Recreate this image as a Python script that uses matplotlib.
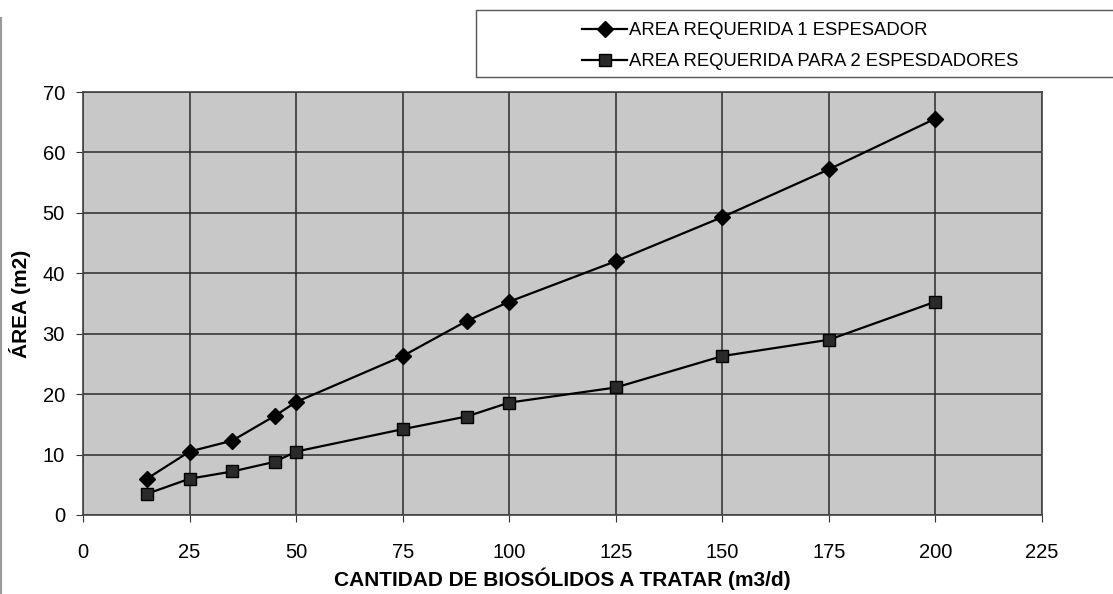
import matplotlib
matplotlib.use("Agg")
from matplotlib import pyplot as plt
from matplotlib.patches import Rectangle
from matplotlib.lines import Line2D

plt.rcParams['font.family'] = ['Liberation Sans', 'DejaVu Sans']

caudal = [15, 25, 35, 45, 50, 75, 90, 100, 125, 150, 175, 200]
area_1 = [6.0, 10.5, 12.3, 16.4, 18.7, 26.3, 32.1, 35.3, 42.0, 49.3, 57.2, 65.6]
area_2 = [3.5, 6.0, 7.2, 8.8, 10.5, 14.2, 16.3, 18.6, 21.1, 26.3, 29.0, 35.3]
nombres = ['AREA REQUERIDA 1 ESPESADOR', 'AREA REQUERIDA PARA 2 ESPESDADORES']
xticks = [0, 25, 50, 75, 100, 125, 150, 175, 200, 225]
yticks = [0, 10, 20, 30, 40, 50, 60, 70]

fig = plt.figure(figsize=(11.13, 5.94), dpi=100)
ax = fig.add_axes([83/1113, 1 - 515/594, (1042-83)/1113, (515-92)/594])
ax.set_facecolor('#c8c8c8')

ax.plot(caudal, area_1, color='black', lw=1.6, marker='D', ms=8,
        label=nombres[0], zorder=3)
ax.plot(caudal, area_2, color='black', lw=1.6, marker='s', ms=9,
        mfc='#2a2a2a', label=nombres[1], zorder=3)

ax.set_xlim(0, 225)
ax.set_ylim(0, 70)
ax.set_xticks(xticks)
ax.set_yticks(yticks)
ax.grid(True, color='#2b2b2b', lw=1.1)
ax.set_axisbelow(True)
for s in ax.spines.values():
    s.set_color('#444444')
    s.set_linewidth(1.2)
ax.tick_params(axis='x', length=5, pad=15, labelsize=14.5, color='#333333')
ax.tick_params(axis='y', length=5, pad=8, labelsize=14.5, color='#333333')

ax.set_xlabel('CANTIDAD DE BIOSÓLIDOS A TRATAR (m3/d)', fontsize=15,
              fontweight='bold', labelpad=4)
ax.set_ylabel('ÁREA (m2)', fontsize=15, fontweight='bold', labelpad=8)

# marco de la leyenda
fig.patches.append(Rectangle((476/1113, 1 - 77/594), 0.6, 67/594,
                             transform=fig.transFigure, fill=False,
                             edgecolor='#555555', lw=1.0))
fig.lines.append(Line2D([1/1113, 1/1113], [0.0, 0.97], transform=fig.transFigure,
                        color='#999999', lw=1.5))

handles = [Line2D([], [], color='black', lw=1.6, marker='D', ms=8),
           Line2D([], [], color='black', lw=1.6, marker='s', ms=9, mfc='#2a2a2a')]
fig.legend(handles, nombres, loc='upper left',
           bbox_to_anchor=(575/1113, 1 - 15/594), frameon=False,
           fontsize=13.3, handlelength=2.4, handletextpad=0.15,
           labelspacing=0.75, borderaxespad=0)

fig.savefig('out.png', dpi=100)
